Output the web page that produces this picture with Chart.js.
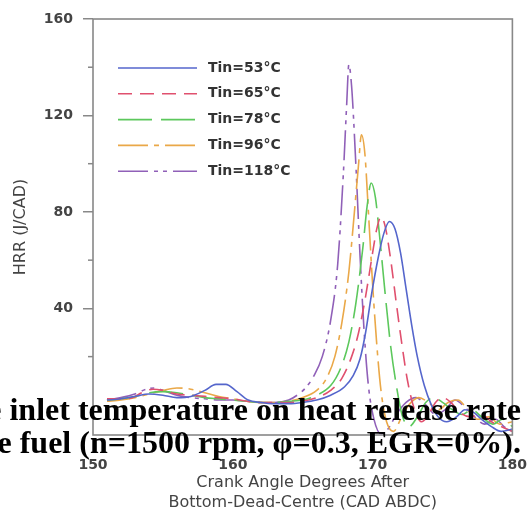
<!DOCTYPE html>
<html>
<head>
<meta charset="utf-8">
<script src="https://cdn.jsdelivr.net/npm/chart.js@4.4.0/dist/chart.umd.min.js"></script>
<style>
html, body { margin: 0; padding: 0; background: #fff; overflow: hidden; }
#wrap { position: relative; width: 529px; height: 518px; overflow: hidden; }
#caption { position: absolute; right: 8px; top: 393px; font: bold 32px "Liberation Serif", "Times New Roman", serif; line-height: 33px; color: #000; white-space: pre; text-align: right; }
</style>
</head>
<body>
<div id="wrap">
<canvas id="hrrChart" width="529" height="518"></canvas>
<div id="caption">the inlet temperature on heat release rate
the fuel (n=1500 rpm, φ=0.3, EGR=0%).</div>
</div>
<script>
// series names
var seriesLabels = ["Tin=53°C", "Tin=65°C", "Tin=78°C", "Tin=96°C", "Tin=118°C"];

// crank angle (CAD ABDC) and heat release rate (J/CAD)
var cad53 = [151, 152, 153, 154, 155, 156, 157, 158, 158.8, 159.5, 160.3, 161.1, 162, 163, 164, 165, 166, 167, 168, 168.6, 169.1, 169.5, 169.9, 170.4, 170.8, 171.2, 171.6, 172, 172.4, 172.8, 173.2, 173.7, 174.2, 174.7, 175.3, 176, 176.6, 177.2, 177.8, 178.5, 179.2, 180];
var hrr53 = [2, 2.5, 3.5, 4.5, 4, 3, 3.5, 6, 8.5, 8.5, 5.5, 2, 1, 0.5, 0.5, 1, 2, 4, 7.5, 12, 19, 30, 45, 61, 71, 76, 73, 63, 48, 33, 20, 8, 0, -5, -7, -5, -2, -3, -6, -9, -11, -10];

var cad65 = [151, 152, 152.8, 153.5, 154.3, 155, 156, 157, 158, 159, 160, 161, 162, 163, 164, 165, 166, 167, 167.8, 168.5, 169, 169.5, 170, 170.3, 170.6, 170.9, 171.3, 171.7, 172.1, 172.5, 173, 173.5, 174, 174.5, 175, 175.6, 176.2, 177, 177.8, 178.5, 179.2, 180];
var hrr65 = [2.5, 2.5, 3, 5, 6.5, 6, 4.5, 4, 3.5, 3, 2.5, 1.5, 1, 1, 1, 1.5, 3, 6, 11, 20, 30, 45, 63, 73, 78, 74, 60, 42, 25, 10, -2, -7, -4, 1, 3, 1, -3, -5, -4, -7, -9, -11];

var cad78 = [151, 152, 153, 154, 155, 156, 157, 158, 159, 160, 161, 162, 163, 164, 165, 166, 167, 167.7, 168.3, 168.8, 169.3, 169.6, 169.9, 170.2, 170.5, 170.9, 171.3, 171.7, 172.1, 172.6, 173.2, 173.8, 174.4, 175, 175.7, 176.4, 177.1, 177.8, 178.6, 179.3, 180];
var hrr78 = [2, 2.5, 3.5, 5, 5.5, 5, 4, 3, 2.5, 2, 1.5, 1, 1, 1.5, 2, 4, 8, 15, 26, 42, 65, 82, 92, 86, 70, 46, 24, 8, -4, -9, -5, 1, 3, 1, -2, -4, -2, -5, -8, -6, -9];

var cad96 = [151, 152, 153, 154, 155, 156, 157, 158, 159, 160, 161, 162, 163, 164, 165, 166, 166.7, 167.3, 167.8, 168.3, 168.7, 169, 169.2, 169.45, 169.7, 170, 170.3, 170.6, 171, 171.5, 172, 172.6, 173.3, 174, 174.7, 175.4, 176.1, 176.8, 177.5, 178.3, 179.1, 180];
var hrr96 = [1.5, 2, 3, 4.5, 6, 7, 6.5, 5, 3.5, 2.5, 1.5, 1, 1, 1.5, 3, 6, 11, 20, 34, 55, 80, 100, 112, 104, 80, 50, 25, 6, -7, -11, -6, 0, 3, 1, -2, 1, 2, -2, -6, -5, -8, -7];

var cad118 = [151, 152, 153, 153.8, 154.4, 155, 156, 157, 158, 159, 160, 161, 162, 163, 164, 164.6, 165.2, 165.8, 166.4, 167, 167.5, 167.9, 168.15, 168.3, 168.5, 168.8, 169.1, 169.4, 169.7, 170.1, 170.6, 171.1, 171.7, 172.4, 173.1, 173.8, 174.5, 175.2, 175.9, 176.6, 177.3, 178, 178.8, 179.4, 180];
var hrr118 = [2, 3, 4.5, 6.5, 7, 6, 4, 3, 2.5, 2, 2, 1.5, 1, 1, 2, 4, 7, 12, 20, 35, 58, 95, 125, 141, 132, 100, 62, 30, 8, -6, -12, -10, -4, 1, 3, 0, -4, -2, 2, -1, -5, -8, -6, -9, -11];

// axis ticks
var xTicks = [150, 160, 170, 180];
var yTicks = [40, 80, 120, 160];
var yMinorTicks = [20, 60, 100, 140];

var lineColors = ['#5566cc', '#e0506e', '#5cc85c', '#eaa848', '#9060b8'];
var lineDashes = [[], [14, 8], [34, 9], [30, 6, 5, 6], [30, 6, 4, 5, 4, 6]];

function pts(xs, ys) {
  return xs.map(function (x, i) { return { x: x, y: ys[i] }; });
}

var allX = [cad53, cad65, cad78, cad96, cad118];
var allY = [hrr53, hrr65, hrr78, hrr96, hrr118];

var datasets = seriesLabels.map(function (lbl, i) {
  return {
    label: lbl,
    data: pts(allX[i], allY[i]),
    borderColor: lineColors[i],
    borderDash: lineDashes[i],
    borderWidth: 1.6,
    pointRadius: 0,
    fill: false,
    cubicInterpolationMode: 'monotone'
  };
});

// box round the plot + short minor ticks on the left
var framePlugin = {
  id: 'frame',
  afterDraw: function (chart) {
    var a = chart.chartArea, ctx = chart.ctx, ys = chart.scales.y;
    ctx.save();
    ctx.strokeStyle = '#888';
    ctx.lineWidth = 1.6;
    ctx.strokeRect(a.left, a.top, a.right - a.left, a.bottom - a.top);
    ctx.lineWidth = 1.5;
    yMinorTicks.forEach(function (v) {
      var py = ys.getPixelForValue(v);
      ctx.beginPath();
      ctx.moveTo(a.left - 5, py);
      ctx.lineTo(a.left, py);
      ctx.stroke();
    });
    ctx.restore();
  }
};

// legend drawn inside the plot, top left
var insideLegend = {
  id: 'insideLegend',
  afterDatasetsDraw: function (chart) {
    var a = chart.chartArea, ctx = chart.ctx;
    ctx.save();
    chart.data.datasets.forEach(function (ds, i) {
      var y = a.top + 49 + i * 25.8;
      ctx.beginPath();
      ctx.setLineDash(ds.borderDash);
      ctx.strokeStyle = ds.borderColor;
      ctx.lineWidth = ds.borderWidth;
      ctx.moveTo(a.left + 25, y);
      ctx.lineTo(a.left + 104, y);
      ctx.stroke();
      ctx.setLineDash([]);
      ctx.fillStyle = '#333';
      ctx.font = 'bold 14px "DejaVu Sans"';
      ctx.textBaseline = 'middle';
      ctx.textAlign = 'left';
      ctx.fillText(ds.label, a.left + 115, y);
    });
    ctx.restore();
  }
};

var ctx = document.getElementById("hrrChart").getContext('2d');
var hrrChart = new Chart(ctx, {
  type: 'line',
  data: { datasets: datasets },
  options: {
    responsive: false,
    animation: false,
    layout: { padding: { top: 19, right: 15, left: 0, bottom: 0 } },
    plugins: {
      legend: { display: false },
      tooltip: { enabled: false }
    },
    scales: {
      x: {
        type: 'linear',
        min: 150,
        max: 180,
        afterBuildTicks: function (s) { s.ticks = xTicks.map(function (v) { return { value: v }; }); },
        afterFit: function (s) { s.height = 83; },
        grid: { display: true, drawOnChartArea: false, drawTicks: true, tickLength: 20, tickColor: 'rgba(0,0,0,0)' },
        border: { display: false },
        ticks: { padding: 2, color: '#444', font: { family: 'DejaVu Sans', size: 14, weight: 'bold' } },
        title: {
          display: true,
          text: ['Crank Angle Degrees After', 'Bottom-Dead-Centre (CAD ABDC)'],
          color: '#444',
          font: { family: 'DejaVu Sans', size: 16 },
          padding: { top: 0, bottom: 6 }
        }
      },
      y: {
        type: 'linear',
        min: -12.5,
        max: 160,
        afterBuildTicks: function (s) { s.ticks = yTicks.map(function (v) { return { value: v }; }); },
        afterFit: function (s) { s.width = 93; },
        grid: { drawOnChartArea: false, tickLength: 10, color: '#888', lineWidth: 1.5 },
        border: { display: false },
        ticks: { padding: 10, color: '#444', font: { family: 'DejaVu Sans', size: 14, weight: 'bold' } },
        title: {
          display: true,
          text: 'HRR (J/CAD)',
          color: '#444',
          font: { family: 'DejaVu Sans', size: 16 },
          padding: { top: 11, bottom: 0 }
        }
      }
    }
  },
  plugins: [framePlugin, insideLegend]
});
</script>
</body>
</html>
